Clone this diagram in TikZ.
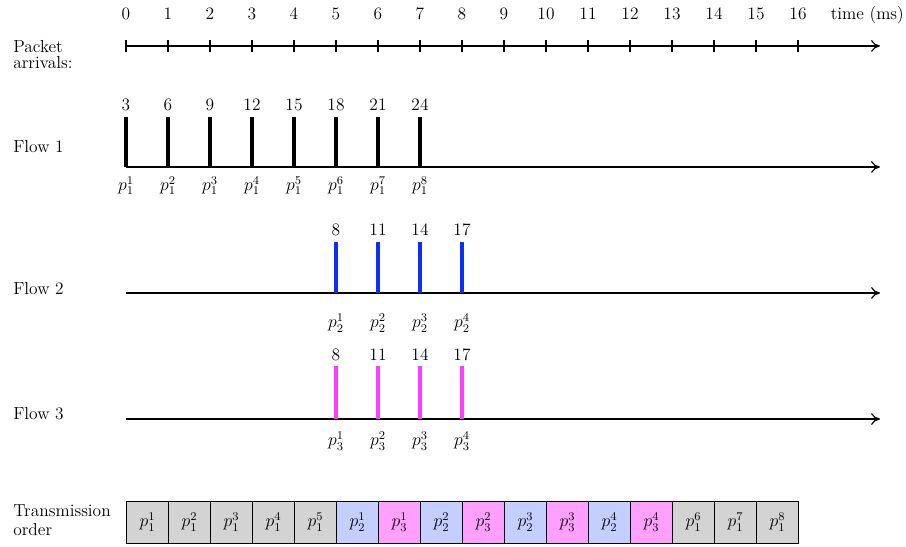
\documentclass[tikz,border=0pt]{standalone}
\usetikzlibrary{arrows.meta}
\definecolor{flowblue}{RGB}{15,45,250}
\definecolor{flowmag}{RGB}{255,60,255}
\definecolor{boxgray}{RGB}{211,211,211}
\definecolor{boxblue}{RGB}{196,206,255}
\definecolor{boxmag}{RGB}{255,160,255}
\tikzset{
  axisline/.style={thick,-{To[length=6pt,width=8pt]}},
  bar/.style={line width=2.2pt},
  lbl/.style={inner sep=0pt,anchor=center},
  sidelbl/.style={inner sep=0pt,anchor=west,align=left},
  pkt/.style={draw,semithick,minimum width=1cm,minimum height=1cm,inner sep=0pt,anchor=west},
}
\begin{document}
\begin{tikzpicture}[x=1cm,y=1cm,font=\fontsize{11.8}{11}\selectfont]
\useasboundingbox (-3,0) rectangle (18.571,-13);
% time axis
\coordinate (ta0) at (0,-1.095);
\coordinate (ta1) at (17.95,-1.095);
\draw[axisline] (ta0) -- (ta1);
\foreach \i in {0,...,16}{
  \draw[thick] (\i,-0.955) -- (\i,-1.235);
  \node[lbl] (t\i) at (\i,-0.333) {\i};
}
\node[lbl] (tms) at (17.65,-0.36) {time (ms)};
\node[sidelbl] (pa) at (-2.69,-1.29) {Packet\\arrivals:};
% Flow 1
\node[sidelbl] (f1) at (-2.69,-3.5) {Flow 1};
\coordinate (a1s) at (0,-3.976);
\coordinate (a1e) at (17.95,-3.976);
\draw[axisline] (a1s) -- (a1e);
\foreach \i/\v in {0/3,1/6,2/9,3/12,4/15,5/18,6/21,7/24}{
  \draw[bar] (\i,-2.786) -- (\i,-3.976);
  \node[lbl] (f1v\i) at (\i,-2.5) {\v};
  \pgfmathtruncatemacro{\k}{\i+1}
  \node[lbl] (f1p\i) at (\i,-4.42) {$p_1^{\k}$};
}
% Flow 2
\node[sidelbl] (f2) at (-2.69,-6.88) {Flow 2};
\coordinate (a2s) at (0,-6.976);
\coordinate (a2e) at (17.95,-6.976);
\draw[axisline] (a2s) -- (a2e);
\foreach \i/\v/\k in {5/8/1,6/11/2,7/14/3,8/17/4}{
  \draw[bar,flowblue] (\i,-5.762) -- (\i,-6.976);
  \node[lbl] (f2v\k) at (\i,-5.476) {\v};
  \node[lbl] (f2p\k) at (\i,-7.69) {$p_2^{\k}$};
}
% Flow 3
\node[sidelbl] (f3) at (-2.69,-9.857) {Flow 3};
\coordinate (a3s) at (0,-9.976);
\coordinate (a3e) at (17.95,-9.976);
\draw[axisline] (a3s) -- (a3e);
\foreach \i/\v/\k in {5/8/1,6/11/2,7/14/3,8/17/4}{
  \draw[bar,flowmag] (\i,-8.714) -- (\i,-9.976);
  \node[lbl] (f3v\k) at (\i,-8.45) {\v};
  \node[lbl] (f3p\k) at (\i,-10.5) {$p_3^{\k}$};
}
% Transmission order
\node[sidelbl] (tr) at (-2.69,-12.38) {Transmission\\[2pt]order};
\foreach \i/\c/\f/\k in {0/boxgray/1/1,1/boxgray/1/2,2/boxgray/1/3,3/boxgray/1/4,4/boxgray/1/5,
  5/boxblue/2/1,6/boxmag/3/1,7/boxblue/2/2,8/boxmag/3/2,9/boxblue/2/3,10/boxmag/3/3,
  11/boxblue/2/4,12/boxmag/3/4,13/boxgray/1/6,14/boxgray/1/7,15/boxgray/1/8}{
  \node[pkt,fill=\c] (b\i) at (\i,-12.43) {$p_{\f}^{\k}$};
}
\end{tikzpicture}
\end{document}
